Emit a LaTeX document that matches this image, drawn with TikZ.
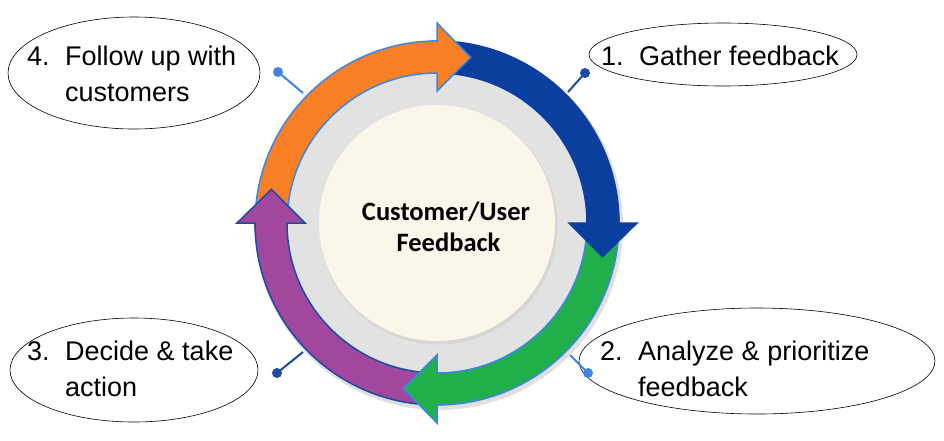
\documentclass[tikz,border=0pt]{standalone}
\usepackage{fontspec}
\setmainfont{Liberation Sans}
\newfontfamily\cfont{Carlito}
\usetikzlibrary{shapes.geometric}
\definecolor{cblue}{HTML}{0B3F9F}
\definecolor{corange}{HTML}{F98024}
\definecolor{cgreen}{HTML}{21AF4B}
\definecolor{cpurple}{HTML}{A1489E}
\definecolor{cgrey}{HTML}{E2E2E2}
\definecolor{ccream}{HTML}{FAF7EA}
\definecolor{clight}{HTML}{3D84E6}
\definecolor{cdark}{HTML}{1D4AA3}
\newcommand\arrbody[4]{%
  \filldraw[fill=#3, draw=#4, line width=1.5pt, line join=round]
    (#1:182pt) arc[start angle=#1, end angle=#2, radius=182pt]
    -- (#2:150pt) arc[start angle=#2, end angle=#1, radius=150pt] -- cycle;}
\newcommand\arrhead[3]{%
  \fill[#2] ({#1+2}:150pt) arc[start angle={#1+2}, end angle=#1, radius=150pt]
    -- (#1:132pt) -- ({#1-11.5}:169pt) -- (#1:200pt) -- (#1:182pt)
    arc[start angle=#1, end angle={#1+2}, radius=182pt] -- cycle;
  \draw[#3, line width=1.5pt, line join=miter]
    ({#1+2}:150pt) arc[start angle={#1+2}, end angle=#1, radius=150pt]
    -- (#1:132pt) -- ({#1-11.5}:169pt) -- (#1:200pt) -- (#1:182pt)
    arc[start angle=#1, end angle={#1+2}, radius=182pt];}
\tikzset{
  bubble/.style={ellipse, draw=black, line width=0.6pt, inner sep=0pt},
  steptext/.style={anchor=base west, inner sep=0pt, font=\fontsize{27}{36}\selectfont},
  conn/.style={line width=2pt},
  dotc/.style={circle, inner sep=0pt, minimum size=10pt}
}
\begin{document}
\begin{tikzpicture}[x=1pt,y=1pt]
\useasboundingbox (0,0) rectangle (944,-440);
% ellipses
\node[bubble, minimum width=268pt, minimum height=63pt] (e1) at (723,-54.5) {};
\node[bubble, minimum width=356pt, minimum height=106pt] (e2) at (757,-361) {};
\node[bubble, minimum width=248pt, minimum height=104pt] (e3) at (134,-370) {};
\node[bubble, minimum width=252pt, minimum height=112pt] (e4) at (134,-73) {};
% texts
\node[steptext] (t1) at (601,-65) {\begin{tabular}[t]{@{}p{38pt}@{}l@{}}1. & Gather feedback\end{tabular}};
\node[steptext] (t2) at (600,-360) {\begin{tabular}[t]{@{}p{38pt}@{}l@{}}2. & Analyze \& prioritize\\ & feedback\end{tabular}};
\node[steptext] (t3) at (27,-360) {\begin{tabular}[t]{@{}p{38pt}@{}l@{}}3. & Decide \& take\\ & action\end{tabular}};
\node[steptext] (t4) at (27,-65) {\begin{tabular}[t]{@{}p{38pt}@{}l@{}}4. & Follow up with\\ & customers\end{tabular}};
% connectors
\coordinate (r1) at (568,-92);
\coordinate (r2) at (567,-352);
\coordinate (r3) at (303,-352);
\coordinate (r4) at (303,-93);
\node[dotc, fill=cdark] (d1) at (585,-73) {};
\node[dotc, fill=clight] (d2) at (588,-373) {};
\node[dotc, fill=cdark] (d3) at (277,-373) {};
\node[dotc, fill=clight] (d4) at (278,-72) {};
\draw[conn, cdark] (r1) -- (d1.center);
\draw[conn, clight] (r2) -- (d2.center);
\draw[conn, cdark] (r3) -- (d3.center);
\draw[conn, clight] (r4) -- (d4.center);
% ring
\begin{scope}[shift={(437pt,-223pt)}]
  \fill[black!12] (2pt,-3pt) circle[radius=184pt];
  \fill[cgrey] (0,0) circle[radius=160pt];
  \fill[black!16] (1.5pt,-2.5pt) circle[radius=119pt];
  \fill[ccream] (0,0) circle[radius=118pt];
  \arrbody{87}{0}{cblue}{cblue}
  \arrbody{-3}{-90}{cgreen}{clight}
  \arrbody{-93}{-180}{cpurple}{cdark}
  \arrbody{177}{90}{corange}{clight}
  \arrhead{0}{cblue}{cblue}
  \arrhead{-90}{cgreen}{clight}
  \arrhead{-180}{cpurple}{cdark}
  \arrhead{90}{corange}{clight}
\end{scope}
\node[font=\cfont\bfseries\fontsize{26.5}{31}\selectfont, anchor=base, inner sep=0pt] (c) at (446,-220)
  {\begin{tabular}[t]{@{}c@{}}Customer/User\\\hspace{5pt}Feedback\end{tabular}};
\end{tikzpicture}
\end{document}
